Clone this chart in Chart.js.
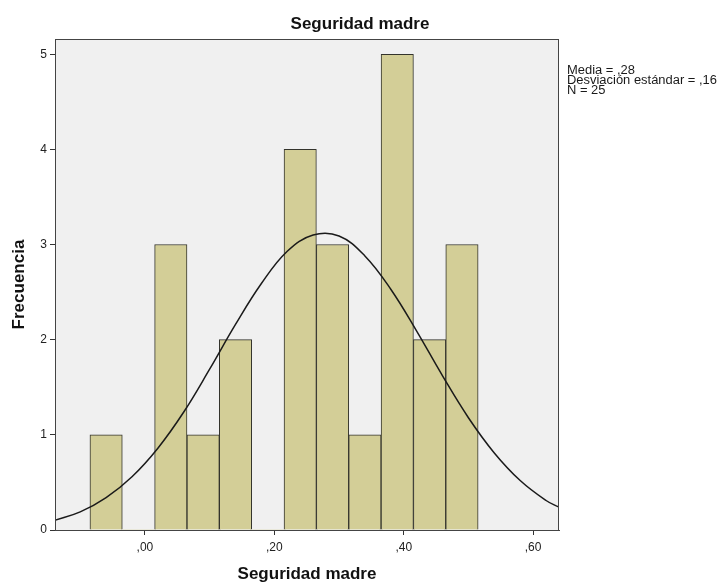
<!DOCTYPE html>
<html>
<head>
<meta charset="utf-8">
<script src="https://cdn.jsdelivr.net/npm/chart.js@4.4.1/dist/chart.umd.min.js"></script>
<style>
  html, body { margin: 0; padding: 0; background: #fff; }
  canvas { display: block; }
</style>
</head>
<body>
<canvas id="histChart" width="720" height="583"></canvas>
<script>
// bins of the histogram (centre of each bin) and their counts
const binCenters = [-0.06, -0.01, 0.04, 0.09, 0.14, 0.19, 0.24, 0.29, 0.34, 0.39, 0.44, 0.49];
const binCounts = [1, 0, 3, 1, 2, 0, 4, 3, 1, 5, 2, 3];

// normal curve
const curveX = [-0.14, -0.10, -0.06, -0.02, 0.02, 0.06, 0.10, 0.14, 0.18, 0.22, 0.26,
    0.30, 0.34, 0.38, 0.42, 0.46, 0.50, 0.54, 0.58, 0.62, 0.64];
const curveY = [0.10, 0.19, 0.34, 0.56, 0.86, 1.24, 1.69, 2.16, 2.59, 2.93, 3.10,
    3.09, 2.88, 2.53, 2.09, 1.62, 1.18, 0.81, 0.52, 0.31, 0.24];

const xTicks = [0, 0.2, 0.4, 0.6];
const yTicks = [0, 1, 2, 3, 4, 5];
const statLines = ['Media = ,28', 'Desviación estándar = ,16', 'N = 25'];
const chartTitle = 'Seguridad madre';
const xTitle = 'Seguridad madre';
const yTitle = 'Frecuencia';

const FONT = '"Liberation Sans", Arial, sans-serif';

const spssFrame = {
    id: 'spssFrame',
    beforeDatasetsDraw(chart) {
        const a = chart.chartArea;
        const ctx = chart.ctx;
        ctx.save();
        ctx.fillStyle = '#f0f0f0';
        ctx.fillRect(a.left, a.top, a.right - a.left, a.bottom - a.top);
        ctx.restore();
    },
    afterDraw(chart) {
        const a = chart.chartArea;
        const ctx = chart.ctx;
        ctx.save();
        ctx.strokeStyle = '#444';
        ctx.lineWidth = 1;
        ctx.strokeRect(a.left + 0.5, a.top + 0.5, a.right - a.left - 1, a.bottom - a.top);

        ctx.fillStyle = '#111';
        ctx.font = 'bold 17px ' + FONT;
        ctx.textAlign = 'center';
        ctx.textBaseline = 'alphabetic';
        ctx.fillText(chartTitle, 360, 29);
        ctx.fillText(xTitle, (a.left + a.right) / 2, 579);

        ctx.save();
        ctx.translate(24, (a.top + a.bottom) / 2);
        ctx.rotate(-Math.PI / 2);
        ctx.fillText(yTitle, 0, 0);
        ctx.restore();

        // stats text next to the frame, stretched to the width it has in SPSS
        ctx.font = '12px ' + FONT;
        ctx.textAlign = 'left';
        ctx.fillStyle = '#1a1a1a';
        const stretch = 150 / ctx.measureText(statLines[1]).width;
        statLines.forEach((t, i) => {
            ctx.save();
            ctx.translate(567, 74 + i * 10);
            ctx.scale(stretch, 1);
            ctx.fillText(t, 0, 0);
            ctx.restore();
        });
        ctx.restore();
    }
};

new Chart(document.getElementById('histChart'), {
    type: 'bar',
    data: {
        datasets: [
            {
                type: 'line',
                data: curveX.map((x, i) => ({ x: x, y: curveY[i] })),
                borderColor: '#1a1a1a',
                borderWidth: 1.5,
                pointRadius: 0,
                tension: 0.4,
                order: 0
            },
            {
                type: 'bar',
                data: binCenters.map((x, i) => ({ x: x, y: binCounts[i] })),
                backgroundColor: '#d3ce97',
                borderColor: '#33332c',
                borderWidth: ctx => (ctx.raw && ctx.raw.y ? 1 : 0),
                barPercentage: 1,
                categoryPercentage: 1,
                order: 1
            }
        ]
    },
    options: {
        responsive: false,
        animation: false,
        layout: { padding: { top: 39, right: 161, left: 0, bottom: 0 } },
        plugins: {
            legend: { display: false },
            tooltip: { enabled: false }
        },
        scales: {
            x: {
                type: 'linear',
                offset: false,
                min: -0.139,
                max: 0.64,
                afterBuildTicks: s => { s.ticks = xTicks.map(v => ({ value: v })); },
                afterFit: s => { s.height = 53; },
                grid: { offset: false, drawOnChartArea: false, drawTicks: true, tickLength: 5, color: '#333' },
                border: { display: true, color: '#444' },
                ticks: {
                    padding: 5,
                    color: '#222',
                    font: { family: FONT, size: 12 },
                    maxRotation: 0,
                    callback: v => ',' + String(Math.round(v * 100)).padStart(2, '0')
                }
            },
            y: {
                min: 0,
                max: 5.16,
                afterBuildTicks: s => { s.ticks = yTicks.map(v => ({ value: v })); },
                afterFit: s => { s.width = 55; },
                grid: { drawOnChartArea: false, drawTicks: true, tickLength: 5, color: '#333' },
                border: { display: true, color: '#444' },
                ticks: {
                    padding: 3,
                    color: '#222',
                    font: { family: FONT, size: 12 }
                }
            }
        }
    },
    plugins: [spssFrame]
});
</script>
</body>
</html>
